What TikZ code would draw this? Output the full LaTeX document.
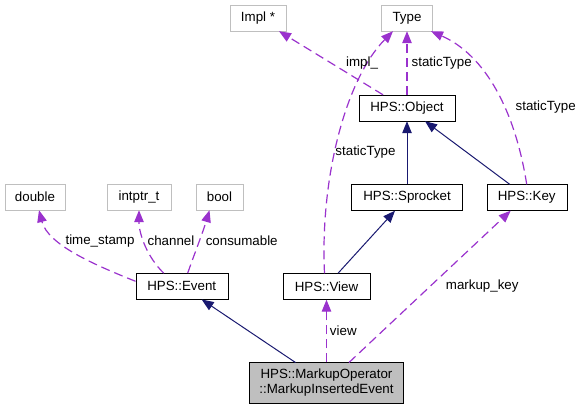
\documentclass[tikz,border=0pt]{standalone}
\usepackage{fontspec}
\setmainfont{Liberation Sans}
\usetikzlibrary{arrows.meta}
\definecolor{usecol}{HTML}{9A32CD}
\definecolor{inhcol}{HTML}{191970}
\definecolor{boxgray}{HTML}{BFBFBF}
\begin{document}
\begin{tikzpicture}[x=1pt,y=-1pt,>={Triangle[length=12pt,width=9.5pt]},
  every node/.style={font=\fontsize{13.33}{15}\selectfont},
  cls/.style={draw=black,fill=white,inner sep=0pt,minimum height=26pt},
  ext/.style={cls,draw=boxgray},
  uses/.style={->,usecol,line width=1.2pt,dash pattern=on 9pt off 5pt},
  inherits/.style={->,inhcol,line width=1pt},
  lbl/.style={inner sep=0pt}]
\useasboundingbox (0,0) rectangle (582,409);

% classes
\node[ext,minimum width=56pt] (impl) at (258,18) {Impl *};
\node[ext,minimum width=51pt] (type) at (407,18) {Type};
\node[cls,minimum width=96pt] (object) at (407,108) {HPS::Object};
\node[ext,minimum width=60pt] (double) at (35,197) {double};
\node[ext,minimum width=64pt] (intptr) at (139,197) {intptr\_t};
\node[ext,minimum width=47pt] (bool) at (219.5,197) {bool};
\node[cls,minimum width=111pt] (sprocket) at (407,197.5) {HPS::Sprocket};
\node[cls,minimum width=80pt] (key) at (526.7,197.5) {HPS::Key};
\node[cls,minimum width=92pt] (event) at (181.7,286.3) {HPS::Event};
\node[cls,minimum width=87pt] (view) at (326.5,286.5) {HPS::View};
\node[cls,fill=boxgray,minimum width=154pt,minimum height=40pt,align=center] (markup) at (326.5,382.7)
  {HPS::MarkupOperator\\::MarkupInsertedEvent};

% inheritance
\draw[inherits] ([xshift=-31pt]markup.north) -- ([xshift=20pt]event.south);
\draw[inherits] ([xshift=11.5pt]view.north) -- ([xshift=-12pt]sprocket.south);
\draw[inherits] (sprocket.north) -- (object.south);
\draw[inherits] ([xshift=-17pt]key.north) -- ([xshift=18pt]object.south);

% members
\draw[uses] (markup.north) -- (view.south);
\draw[uses] ([xshift=22.5pt]markup.north) -- ([xshift=-16pt]key.south);
\draw[uses] ([xshift=-2pt]view.north) .. controls (320,180) and (345,80) .. ([xshift=-14pt]type.south);
\draw[uses] (object.north) -- (type.south);
\draw[uses] ([xshift=-24pt]object.north) -- ([xshift=21pt]impl.south);
\draw[uses] (key.north) .. controls (515,110) and (485,55) .. ([xshift=24pt]type.south);
\draw[uses] ([yshift=5pt]event.west) .. controls (95,265) and (48,245) .. ([xshift=4pt]double.south);
\draw[uses] ([xshift=-18pt]event.north) .. controls (148,258) and (139,235) .. (intptr.south);
\draw[uses] ([xshift=6pt]event.north) .. controls (194,255) and (203,232) .. ([xshift=-10pt]bool.south);

% labels
\node[lbl] (implL) at (362,62.7) {impl\_};
\node[lbl] (objtypeL) at (441.7,62.7) {staticType};
\node[lbl] (keytypeL) at (545.7,106.7) {staticType};
\node[lbl] (viewtypeL) at (365.5,151.7) {staticType};
\node[lbl] (stampL) at (100,240.7) {time\_stamp};
\node[lbl] (channelL) at (171,240.7) {channel};
\node[lbl] (consumL) at (241.7,240.7) {consumable};
\node[lbl] (markupkeyL) at (482.2,286) {markup\_key};
\node[lbl] (viewL) at (343.3,330.7) {view};
\end{tikzpicture}
\end{document}
